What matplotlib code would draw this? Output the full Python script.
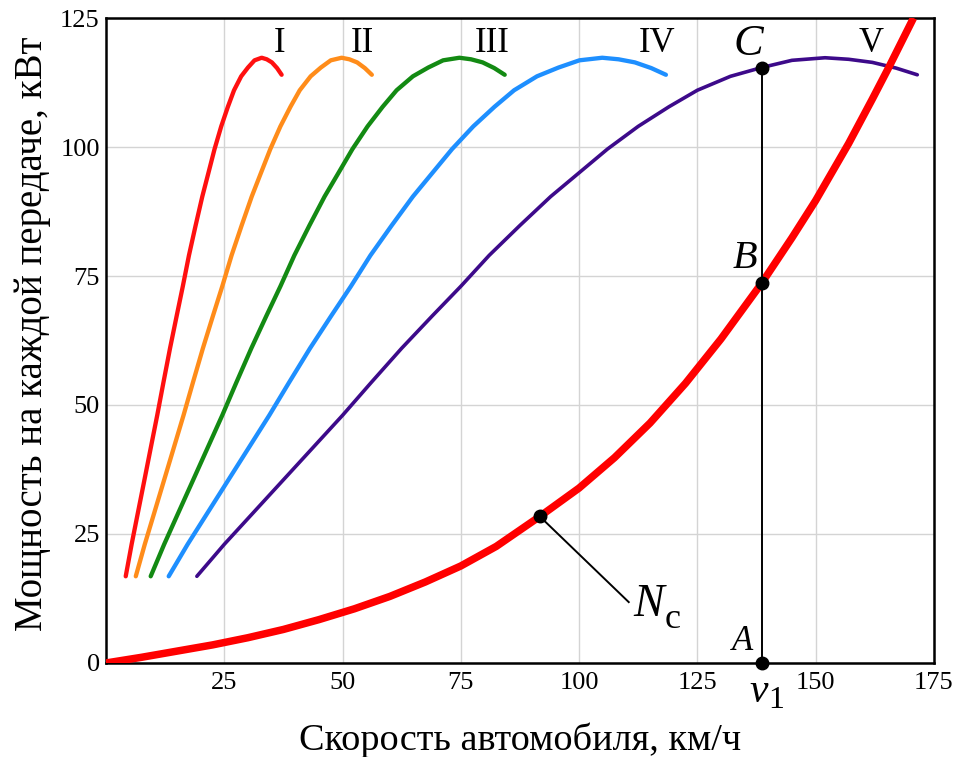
import numpy as np
import matplotlib
matplotlib.use('Agg')
import matplotlib.pyplot as plt

# engine power, kW, shared by every gear
POWER = [16.8, 23.0, 29.0, 35.5, 42.0, 48.0, 54.3, 61.0, 67.3, 73.0, 79.0, 84.8,
         90.4, 95.0, 99.6, 104.0, 107.8, 111.0, 113.7, 115.4, 116.8, 117.3,
         117.0, 116.4, 115.3, 114.0]

# vehicle speed, km/h, at each POWER point for each gear
SPEED = {
    'I':   [4.16, 5.41, 6.71, 8.12, 9.52, 10.82, 12.12, 13.53, 14.94, 16.23,
            17.53, 18.94, 20.35, 21.65, 22.94, 24.35, 25.76, 27.06, 28.57, 30.0,
            31.39, 32.9, 33.98, 35.06, 36.15, 37.12],
    'II':  [6.29, 8.19, 10.16, 12.29, 14.42, 16.38, 18.35, 20.48, 22.61, 24.57,
            26.54, 28.67, 30.80, 32.76, 34.73, 36.86, 38.99, 40.95, 43.25, 45.41,
            47.51, 49.8, 51.44, 53.08, 54.71, 56.19],
    'III': [9.44, 12.29, 15.23, 18.43, 21.62, 24.57, 27.52, 30.72, 33.91, 36.86,
            39.81, 43.0, 46.20, 49.15, 52.09, 55.29, 58.48, 61.43, 64.87, 68.11,
            71.26, 74.7, 77.16, 79.61, 82.07, 84.28],
    'IV':  [13.25, 17.25, 21.39, 25.88, 30.37, 34.51, 38.65, 43.13, 47.62, 51.76,
            55.90, 60.39, 64.87, 69.01, 73.15, 77.64, 82.13, 86.27, 91.10, 95.65,
            100.07, 104.9, 108.35, 111.80, 115.25, 118.36],
    'V':   [19.2, 25.0, 31.0, 37.5, 44.0, 50.0, 56.0, 62.5, 69.0, 75.0, 81.0, 87.5,
            94.0, 100.0, 106.0, 112.5, 119.0, 125.0, 132.0, 138.6, 145.0, 152.0,
            157.0, 162.0, 167.0, 171.5],
}
GEAR_COLOR = {'I': '#ff1010', 'II': '#ff8c1a', 'III': '#138a13',
              'IV': '#1e8fff', 'V': '#3d0a8a'}
GEAR_LABEL_X = {'I': 36.7, 'II': 54.1, 'III': 81.6, 'IV': 116.5, 'V': 161.7}

# resistance power N_c
NC_SPEED = [0, 7.5, 15, 22.5, 30, 37.5, 45, 52.5, 60, 67.5, 75, 82.5, 91.7, 100,
            107.5, 115, 122.5, 130, 138.6, 145, 150, 157, 162, 165.4, 170.7]
NC_POWER = [0, 1.1, 2.3, 3.5, 4.9, 6.5, 8.4, 10.5, 12.9, 15.7, 18.8, 22.6, 28.4,
            33.9, 39.8, 46.5, 54.2, 62.8, 73.6, 82.4, 89.6, 100.7, 109.3, 115.3, 125.0]

V1 = 138.6
POINT_A = 0.0
POINT_B = 73.6
POINT_C = 115.3
NC_MARK = (91.7, 28.4)

plt.rcParams['font.family'] = ['Liberation Serif', 'DejaVu Serif']

fig = plt.figure(figsize=(9.57, 7.57), dpi=100)
ax = fig.add_axes([0.1108, 0.1242, 0.865, 0.852])

for g in SPEED:
    ax.plot(SPEED[g], POWER, color=GEAR_COLOR[g], lw=3.1 if g != 'V' else 2.6,
            solid_capstyle='round', solid_joinstyle='round', zorder=3)
    ax.text(GEAR_LABEL_X[g], 120.1, g, fontsize=25, ha='center', va='center')
ax.plot(NC_SPEED, NC_POWER, color='#ff0000', lw=5.4, solid_capstyle='butt',
        solid_joinstyle='round', zorder=4)

# v1 construction
ax.plot([V1, V1], [POINT_A, POINT_C], color='black', lw=1.4, zorder=5)
ax.plot([NC_MARK[0], 110.5], [NC_MARK[1], 11.8], color='black', lw=1.4, zorder=5)
ax.plot([V1, V1, V1, NC_MARK[0]], [POINT_A, POINT_B, POINT_C, NC_MARK[1]], 'o',
        color='black', ms=9, zorder=6, clip_on=False)

it = dict(ha='center', va='center', style='italic')
ax.text(135.8, 119.9, 'C', fontsize=32, **it)
ax.text(135.0, 78.3, 'B', fontsize=29, **it)
ax.text(134.6, 4.1, 'A', fontsize=25, **it)
ax.text(114.8, 11.2, 'N', fontsize=33, **it)
ax.text(119.8, 8.4, 'с', fontsize=26, ha='center', va='center')
xt = ax.get_xaxis_transform()
ax.text(138.0, -0.045, 'v', transform=xt, clip_on=False, fontsize=30, **it)
ax.text(141.6, -0.058, '1', transform=xt, clip_on=False, fontsize=23,
        ha='center', va='center')

ax.set_xlim(0, 175)
ax.set_ylim(0, 125)
ax.set_xticks([25, 50, 75, 100, 125, 150, 175])
ax.set_yticks([0, 25, 50, 75, 100, 125])
ax.tick_params(length=0, labelsize=19)
ax.tick_params(axis='y', pad=4.5)
ax.tick_params(axis='x', pad=6.5)
ax.grid(color='#d4d4d4', lw=1.0)
ax.set_axisbelow(True)
for s in ax.spines.values():
    s.set_linewidth(1.8)

ax.set_xlabel('Скорость автомобиля, км/ч', fontsize=27.5)
ax.set_ylabel('Мощность на каждой передаче, кВт', fontsize=28)
ax.xaxis.set_label_coords(0.5, -0.093)
ax.yaxis.set_label_coords(-0.066, 0.51)

fig.savefig('out.png', dpi=100)
